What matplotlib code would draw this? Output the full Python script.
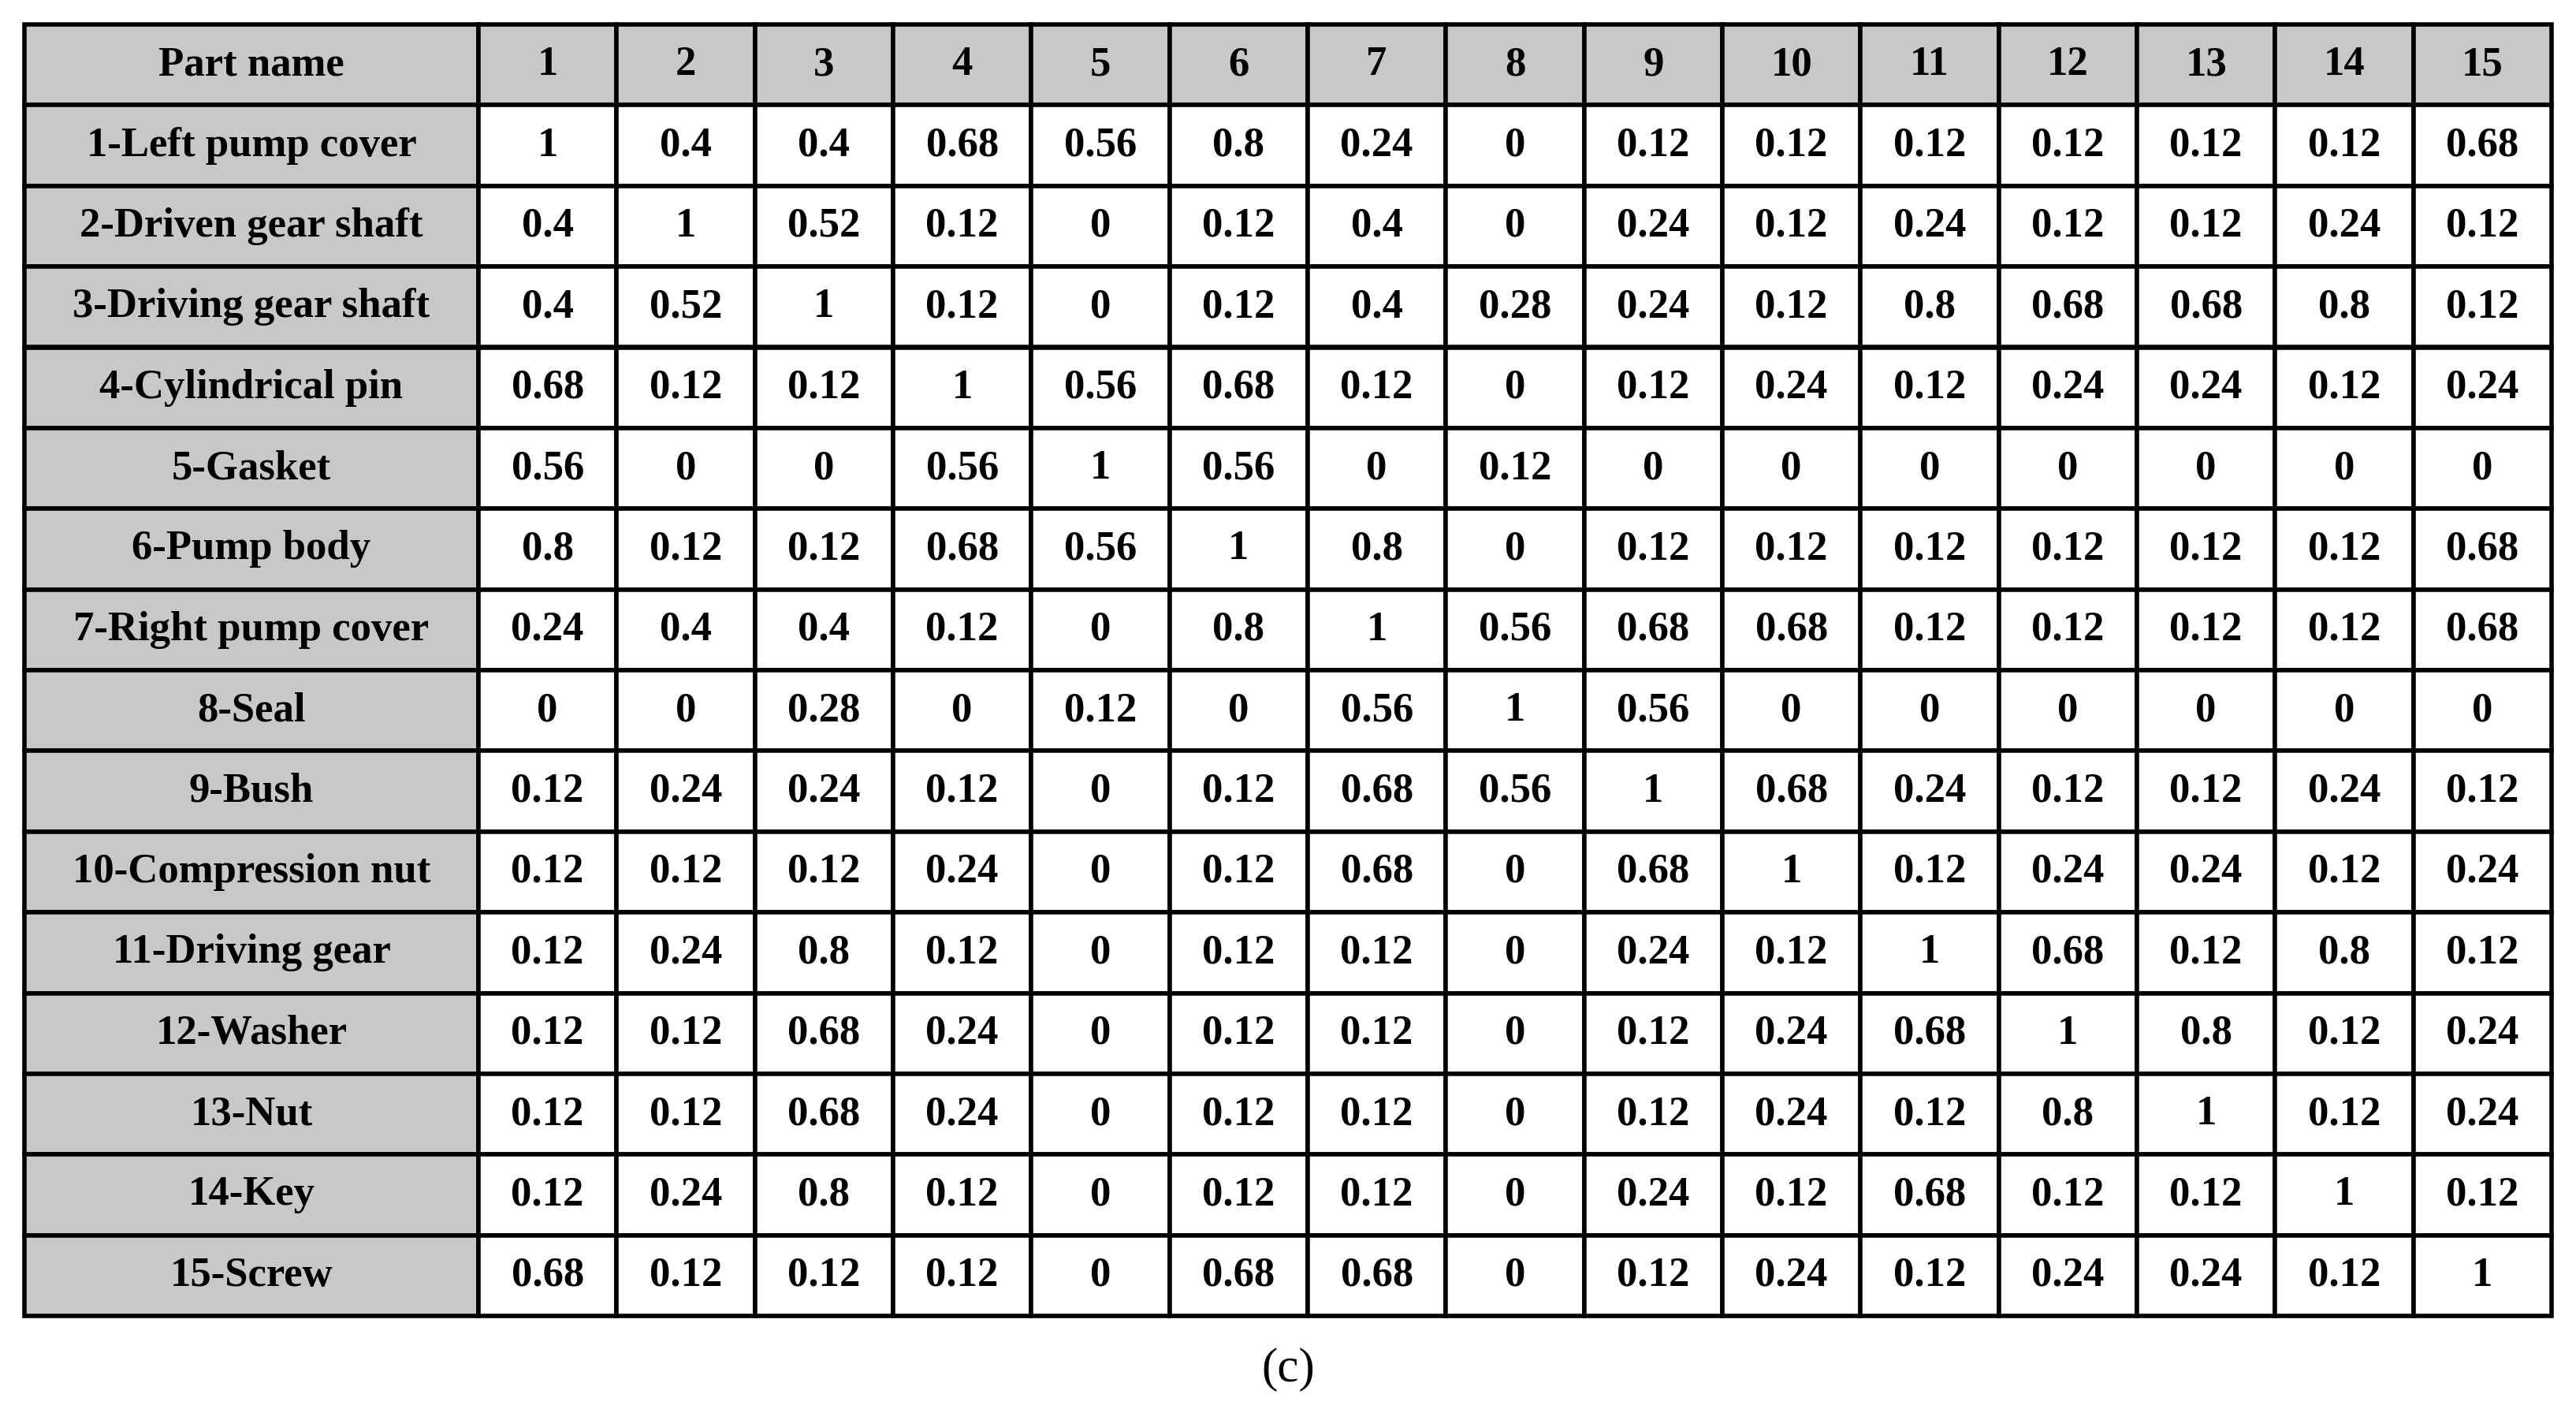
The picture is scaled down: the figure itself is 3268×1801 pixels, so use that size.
import matplotlib.pyplot as plt
from matplotlib.patches import Rectangle

parts = ["1-Left pump cover", "2-Driven gear shaft", "3-Driving gear shaft", "4-Cylindrical pin",
         "5-Gasket", "6-Pump body", "7-Right pump cover", "8-Seal", "9-Bush",
         "10-Compression nut", "11-Driving gear", "12-Washer", "13-Nut", "14-Key", "15-Screw"]
col_labels = [str(i) for i in range(1, 16)]
values = [
    [1, 0.4, 0.4, 0.68, 0.56, 0.8, 0.24, 0, 0.12, 0.12, 0.12, 0.12, 0.12, 0.12, 0.68],
    [0.4, 1, 0.52, 0.12, 0, 0.12, 0.4, 0, 0.24, 0.12, 0.24, 0.12, 0.12, 0.24, 0.12],
    [0.4, 0.52, 1, 0.12, 0, 0.12, 0.4, 0.28, 0.24, 0.12, 0.8, 0.68, 0.68, 0.8, 0.12],
    [0.68, 0.12, 0.12, 1, 0.56, 0.68, 0.12, 0, 0.12, 0.24, 0.12, 0.24, 0.24, 0.12, 0.24],
    [0.56, 0, 0, 0.56, 1, 0.56, 0, 0.12, 0, 0, 0, 0, 0, 0, 0],
    [0.8, 0.12, 0.12, 0.68, 0.56, 1, 0.8, 0, 0.12, 0.12, 0.12, 0.12, 0.12, 0.12, 0.68],
    [0.24, 0.4, 0.4, 0.12, 0, 0.8, 1, 0.56, 0.68, 0.68, 0.12, 0.12, 0.12, 0.12, 0.68],
    [0, 0, 0.28, 0, 0.12, 0, 0.56, 1, 0.56, 0, 0, 0, 0, 0, 0],
    [0.12, 0.24, 0.24, 0.12, 0, 0.12, 0.68, 0.56, 1, 0.68, 0.24, 0.12, 0.12, 0.24, 0.12],
    [0.12, 0.12, 0.12, 0.24, 0, 0.12, 0.68, 0, 0.68, 1, 0.12, 0.24, 0.24, 0.12, 0.24],
    [0.12, 0.24, 0.8, 0.12, 0, 0.12, 0.12, 0, 0.24, 0.12, 1, 0.68, 0.12, 0.8, 0.12],
    [0.12, 0.12, 0.68, 0.24, 0, 0.12, 0.12, 0, 0.12, 0.24, 0.68, 1, 0.8, 0.12, 0.24],
    [0.12, 0.12, 0.68, 0.24, 0, 0.12, 0.12, 0, 0.12, 0.24, 0.12, 0.8, 1, 0.12, 0.24],
    [0.12, 0.24, 0.8, 0.12, 0, 0.12, 0.12, 0, 0.24, 0.12, 0.68, 0.12, 0.12, 1, 0.12],
    [0.68, 0.12, 0.12, 0.12, 0, 0.68, 0.68, 0, 0.12, 0.24, 0.12, 0.24, 0.24, 0.12, 1],
]

W, H = 3268, 1801
fig = plt.figure(figsize=(W / 200, H / 200), dpi=200)
ax = fig.add_axes([0, 0, 1, 1])
ax.set_xlim(0, W)
ax.set_ylim(H, 0)
ax.axis("off")

left, right, top, bottom = 31, 3237, 31, 1669
first_w = 576
cw = (right - left - first_w) / 15
rh = (bottom - top) / 16
grey = "#c8c8c8"
font = dict(family="Liberation Serif", fontweight="bold", fontsize=19, ha="center", va="center")


def cell(x, y, w, text, fill):
    ax.add_patch(Rectangle((x, y), w, rh, facecolor=fill, edgecolor="black", lw=2))
    ax.text(x + w / 2, y + rh / 2, text, **font)


def fmt(v):
    return f"{v:g}"


cell(left, top, first_w, "Part name", grey)
for j, c in enumerate(col_labels):
    cell(left + first_w + j * cw, top, cw, c, grey)
for i, p in enumerate(parts):
    y = top + (i + 1) * rh
    cell(left, y, first_w, p, grey)
    for j, v in enumerate(values[i]):
        cell(left + first_w + j * cw, y, cw, fmt(v), "white")

ax.text(W / 2, 1737, "(c)", family="Liberation Serif", fontsize=22, ha="center", va="center")
fig.savefig("out.png", dpi=200)
